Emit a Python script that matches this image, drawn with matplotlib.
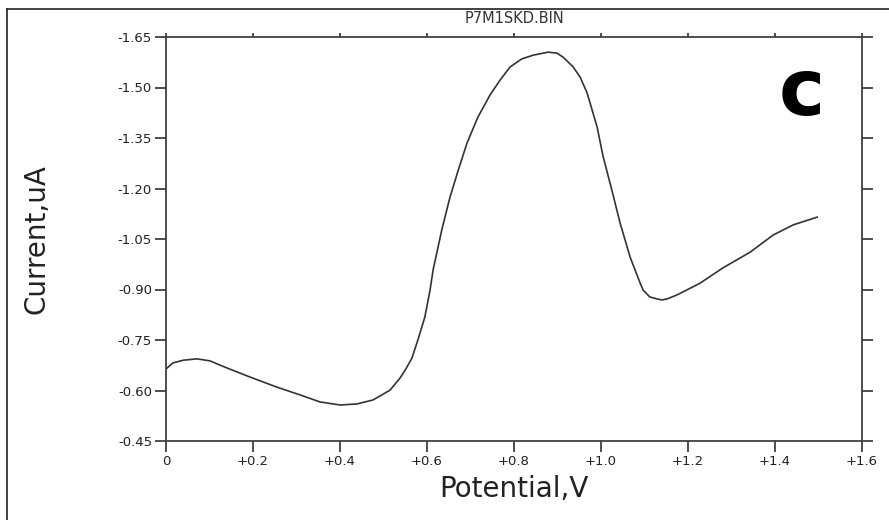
import matplotlib.pyplot as plt
from matplotlib.lines import Line2D
import numpy as np

# potenciál (V) a proud (uA)
potential = [0.000, 0.016, 0.040, 0.071, 0.101, 0.140, 0.193, 0.255, 0.308,
             0.354, 0.400, 0.439, 0.476, 0.515, 0.538, 0.550, 0.565, 0.579,
             0.595, 0.607, 0.614, 0.634, 0.653, 0.672, 0.692, 0.717, 0.745,
             0.768, 0.791, 0.818, 0.844, 0.878, 0.899, 0.913, 0.936, 0.952,
             0.968, 0.991, 1.005, 1.025, 1.044, 1.067, 1.090, 1.097, 1.112,
             1.129, 1.140, 1.152, 1.175, 1.228, 1.280, 1.343, 1.396, 1.442, 1.497]
current = [-0.664, -0.682, -0.690, -0.694, -0.688, -0.667, -0.640, -0.610, -0.587,
           -0.566, -0.557, -0.560, -0.572, -0.601, -0.637, -0.661, -0.695, -0.750,
           -0.818, -0.898, -0.958, -1.077, -1.175, -1.255, -1.335, -1.412, -1.478,
           -1.522, -1.561, -1.585, -1.596, -1.605, -1.602, -1.590, -1.561, -1.531,
           -1.484, -1.383, -1.294, -1.195, -1.097, -0.996, -0.919, -0.898, -0.878,
           -0.872, -0.869, -0.872, -0.884, -0.919, -0.964, -1.011, -1.062, -1.092, -1.115]

xticks = [0, 0.2, 0.4, 0.6, 0.8, 1.0, 1.2, 1.4, 1.6]
xtick_labels = ['0', '+0.2', '+0.4', '+0.6', '+0.8', '+1.0', '+1.2', '+1.4', '+1.6']
yticks = [-1.65, -1.50, -1.35, -1.20, -1.05, -0.90, -0.75, -0.60, -0.45]
ytick_labels = ['-1.65', '-1.50', '-1.35', '-1.20', '-1.05', '-0.90', '-0.75', '-0.60', '-0.45']

plt.rcParams['font.family'] = ['DejaVu Sans']

fig = plt.figure(figsize=(8.89, 5.2), dpi=100)
ax = fig.add_axes([166 / 889, 1 - 441 / 520, (862 - 166) / 889, (441 - 37) / 520])

spine_col = '#404040'
ax.plot(potential, current, color='#333333', linewidth=1.2)

ax.set_xlim(0, 1.6)
ax.set_ylim(-0.45, -1.65)
ax.set_xticks(xticks)
ax.set_xticklabels(xtick_labels)
ax.set_yticks(yticks)
ax.set_yticklabels(ytick_labels)

for s in ax.spines.values():
    s.set_color(spine_col)
    s.set_linewidth(1.3)

ax.tick_params(axis='both', direction='out', length=8, width=1.3, color=spine_col,
               labelsize=9.5, labelcolor='#222222', pad=2)
ax.tick_params(axis='y', right=True)
ax.tick_params(axis='x', top=True)
# horní ticky jsou krátké
for t in ax.xaxis.get_major_ticks():
    t.tick2line.set_markersize(3)

ax.set_title('P7M1SKD.BIN', fontsize=10.5, color='#333333', pad=10)
ax.set_xlabel('Potential,V', fontsize=20, color='#222222', labelpad=5)
ax.set_ylabel('Current,uA', fontsize=20, color='#222222')
ax.yaxis.set_label_coords(-0.166, 0.5)

ax.text(0.914, 0.862, 'c', transform=ax.transAxes, fontsize=56, fontweight='heavy',
        ha='center', va='center', color='black')

# vnější rámeček
fig.add_artist(Line2D([6.5 / 889, 6.5 / 889], [0, 1 - 8.5 / 520], color='#222222',
                      linewidth=1.2, transform=fig.transFigure))
fig.add_artist(Line2D([6.5 / 889, 1], [1 - 8.5 / 520, 1 - 8.5 / 520], color='#222222',
                      linewidth=1.2, transform=fig.transFigure))

fig.savefig('out.png', dpi=100)
